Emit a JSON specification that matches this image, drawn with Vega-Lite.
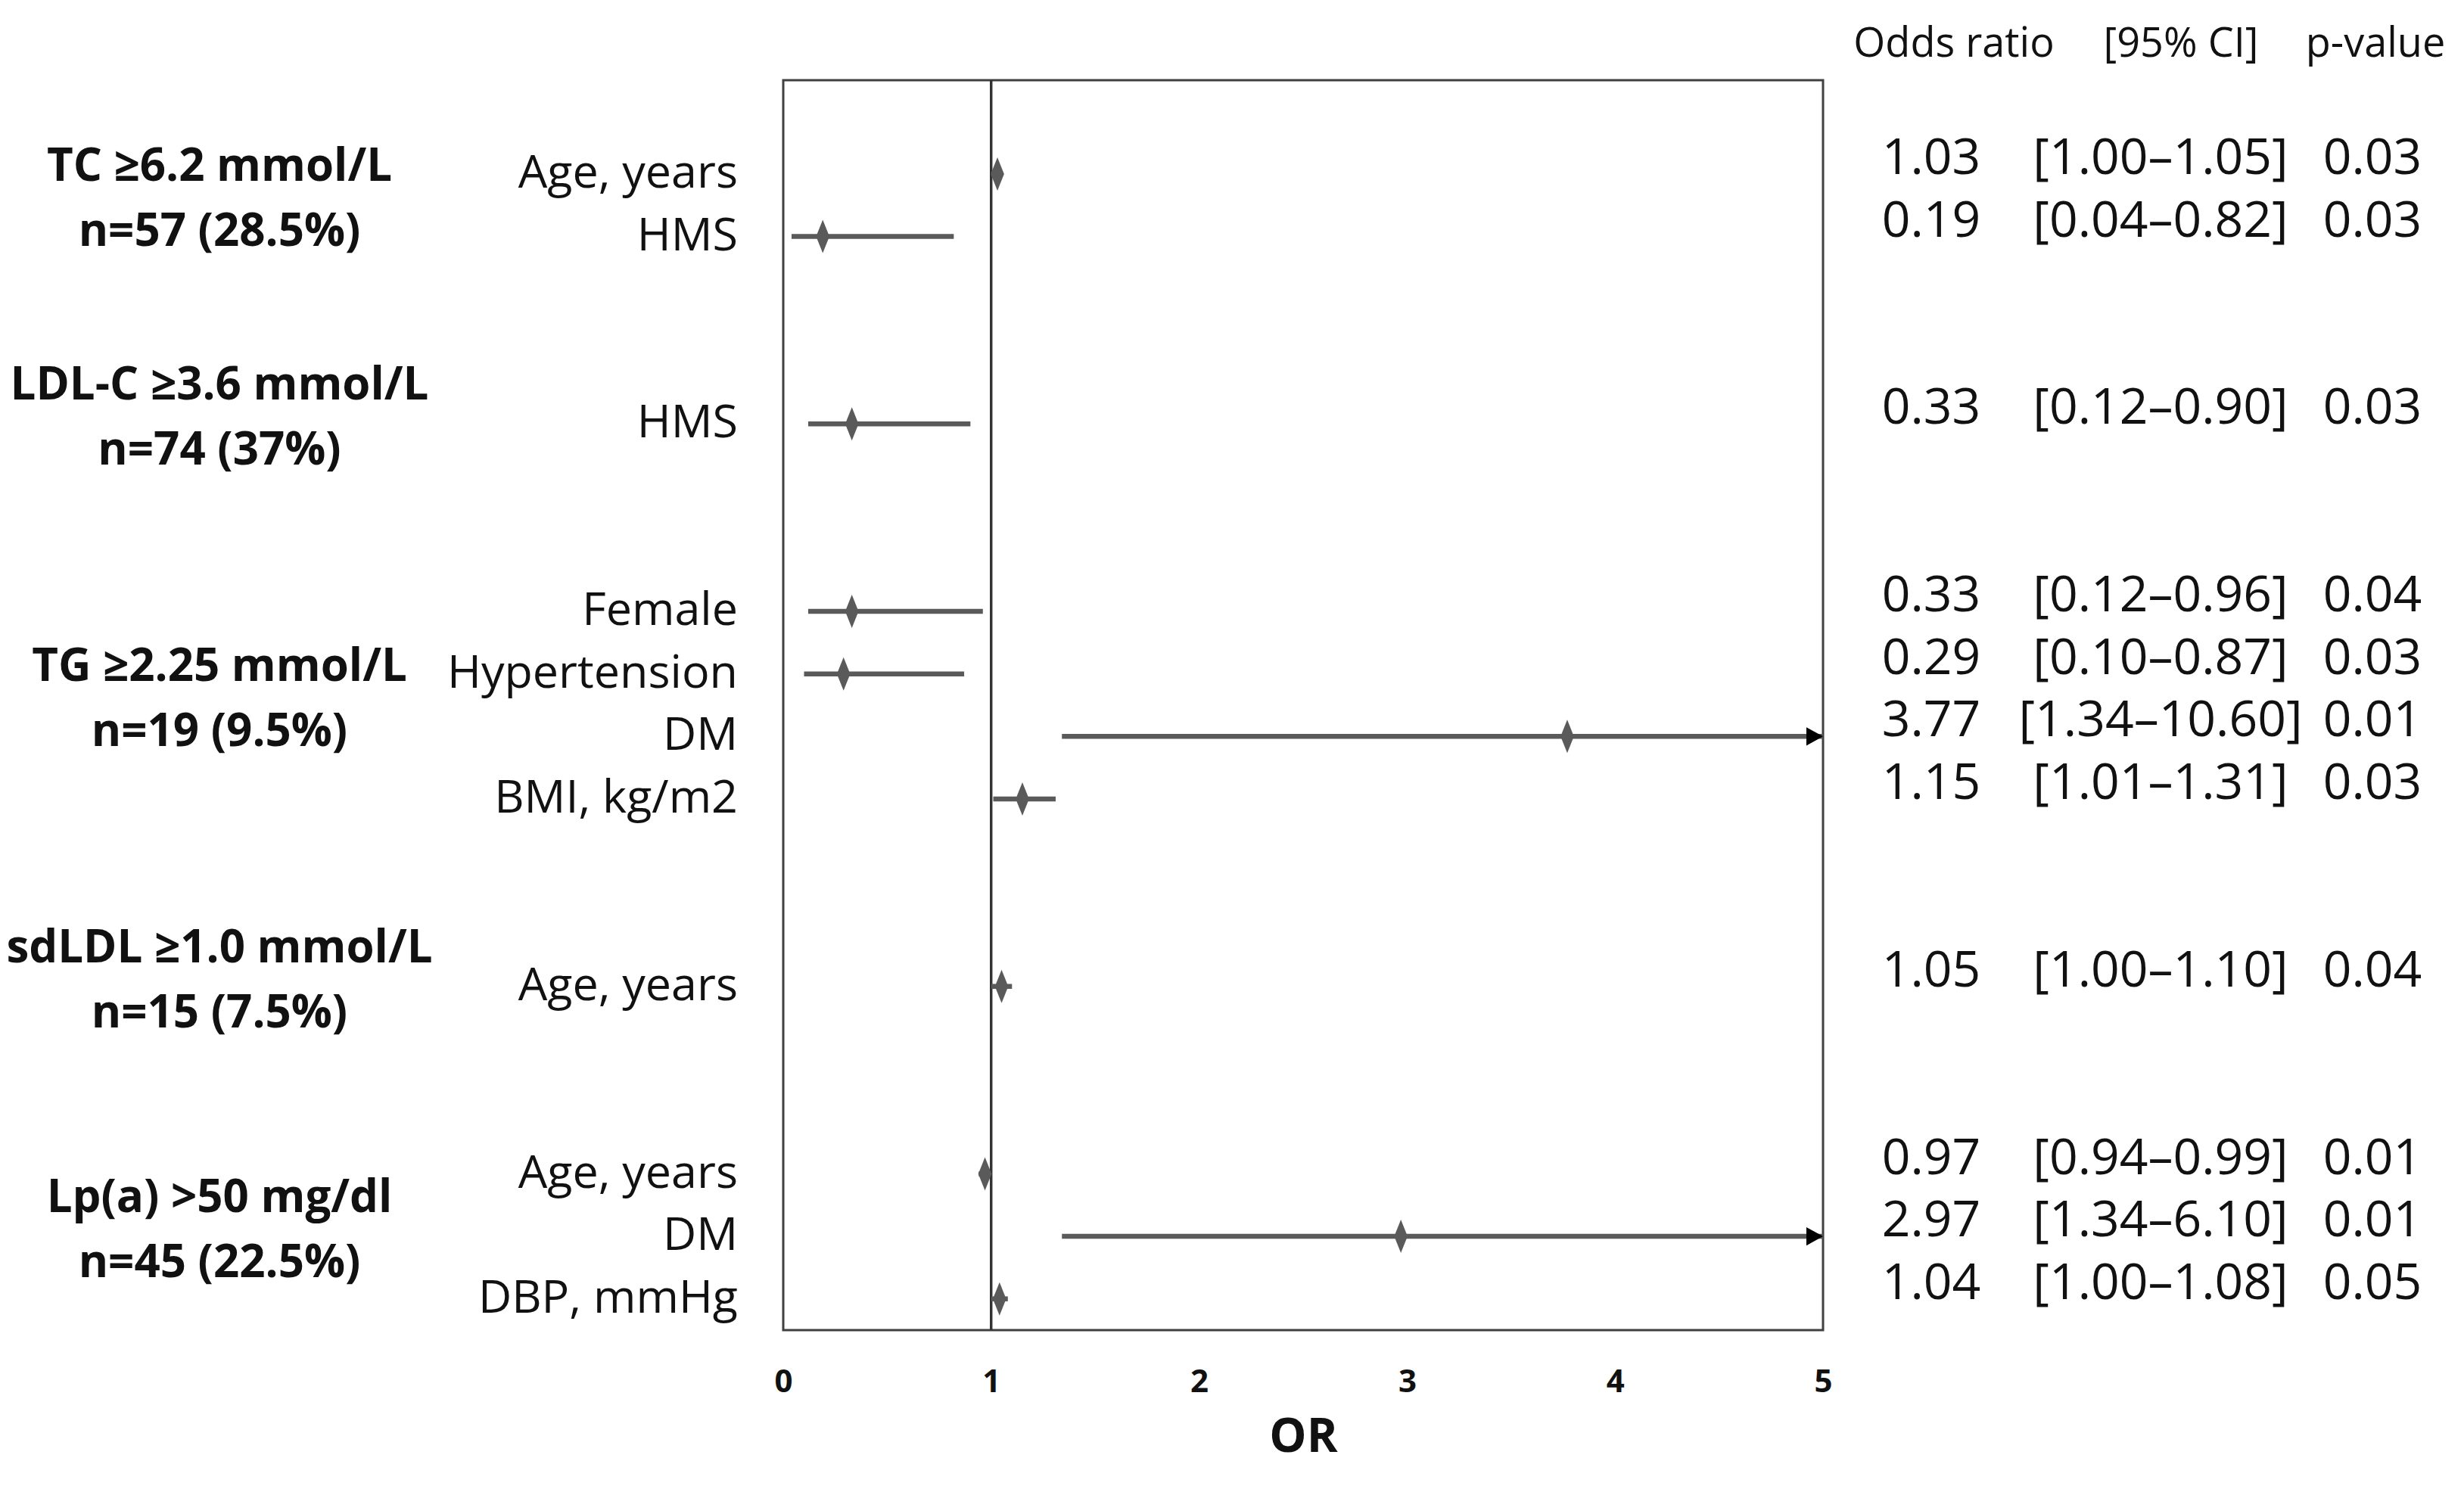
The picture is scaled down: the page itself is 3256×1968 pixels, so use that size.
{
  "$schema": "https://vega.github.io/schema/vega-lite/v6.json",
  "padding": {"left": 0, "top": 32, "right": 0, "bottom": 0},
  "background": "white",
  "bounds": "flush",
  "spacing": 0,
  "datasets": {
    "rows": [
      {"grp": "TC ≥6.2 mmol/L\nn=57 (28.5%)", "var": "Age, years", "row": 0, "or": 1.03, "lo": 1.00, "hi": 1.05, "ci": "[1.00–1.05]", "p": 0.03},
      {"grp": "TC ≥6.2 mmol/L\nn=57 (28.5%)", "var": "HMS", "row": 1, "or": 0.19, "lo": 0.04, "hi": 0.82, "ci": "[0.04–0.82]", "p": 0.03},
      {"grp": "LDL-C ≥3.6 mmol/L\nn=74 (37%)", "var": "HMS", "row": 4, "or": 0.33, "lo": 0.12, "hi": 0.90, "ci": "[0.12–0.90]", "p": 0.03},
      {"grp": "TG ≥2.25 mmol/L\nn=19 (9.5%)", "var": "Female", "row": 7, "or": 0.33, "lo": 0.12, "hi": 0.96, "ci": "[0.12–0.96]", "p": 0.04},
      {"grp": "TG ≥2.25 mmol/L\nn=19 (9.5%)", "var": "Hypertension", "row": 8, "or": 0.29, "lo": 0.10, "hi": 0.87, "ci": "[0.10–0.87]", "p": 0.03},
      {"grp": "TG ≥2.25 mmol/L\nn=19 (9.5%)", "var": "DM", "row": 9, "or": 3.77, "lo": 1.34, "hi": 10.60, "ci": "[1.34–10.60]", "p": 0.01},
      {"grp": "TG ≥2.25 mmol/L\nn=19 (9.5%)", "var": "BMI, kg/m2", "row": 10, "or": 1.15, "lo": 1.01, "hi": 1.31, "ci": "[1.01–1.31]", "p": 0.03},
      {"grp": "sdLDL ≥1.0 mmol/L\nn=15 (7.5%)", "var": "Age, years", "row": 13, "or": 1.05, "lo": 1.00, "hi": 1.10, "ci": "[1.00–1.10]", "p": 0.04},
      {"grp": "Lp(a) >50 mg/dl\nn=45 (22.5%)", "var": "Age, years", "row": 16, "or": 0.97, "lo": 0.94, "hi": 0.99, "ci": "[0.94–0.99]", "p": 0.01},
      {"grp": "Lp(a) >50 mg/dl\nn=45 (22.5%)", "var": "DM", "row": 17, "or": 2.97, "lo": 1.34, "hi": 6.10, "ci": "[1.34–6.10]", "p": 0.01},
      {"grp": "Lp(a) >50 mg/dl\nn=45 (22.5%)", "var": "DBP, mmHg", "row": 18, "or": 1.04, "lo": 1.00, "hi": 1.08, "ci": "[1.00–1.08]", "p": 0.05}
    ]
  },
  "resolve": {"scale": {"y": "shared"}},
  "hconcat": [
    {
      "width": 580, "height": 1652,
      "data": {"name": "rows"},
      "mark": {"type": "text", "font": "Open Sans", "fontSize": 60, "fontWeight": "bold", "align": "center", "baseline": "middle", "lineBreak": "\n", "lineHeight": 86, "dy": -50, "color": "#111"},
      "encoding": {
        "y": {"aggregate": "mean", "field": "row", "type": "quantitative", "scale": {"domain": [-1.5, 18.5], "reverse": true, "nice": false, "zero": false}, "axis": null},
        "text": {"field": "grp", "type": "nominal"}
      }
    },
    {
      "width": 455, "height": 1652,
      "data": {"name": "rows"},
      "mark": {"type": "text", "font": "Open Sans", "fontSize": 61, "align": "right", "baseline": "middle", "dx": -60, "color": "#111"},
      "encoding": {
        "x": {"value": "width"},
        "y": {"field": "row", "type": "quantitative", "axis": null},
        "text": {"field": "var", "type": "nominal"}
      }
    },
    {
      "width": 1374, "height": 1652,
      "data": {"name": "rows"},
      "view": {"stroke": "#404040", "strokeWidth": 3},
      "encoding": {
        "y": {"field": "row", "type": "quantitative", "axis": null}
      },
      "layer": [
        {
          "mark": {"type": "rule", "color": "#333333", "strokeWidth": 2.5},
          "encoding": {"x": {"datum": 1, "type": "quantitative"}, "y": null}
        },
        {
          "mark": {"type": "rule", "color": "#5a5a5a", "strokeWidth": 6.5, "clip": true},
          "encoding": {
            "x": {"field": "lo", "type": "quantitative", "scale": {"domain": [0, 5], "nice": false, "zero": false},
              "axis": {"values": [0, 1, 2, 3, 4, 5], "format": "d", "ticks": false, "domain": false, "grid": false, "labelFlush": false, "labelFont": "Open Sans", "labelFontWeight": "bold", "labelFontSize": 42, "labelColor": "#111", "labelPadding": 48, "title": "OR", "titleFont": "Open Sans", "titleFontSize": 62, "titleFontWeight": "bold", "titleColor": "#111", "titlePadding": 22}},
            "x2": {"field": "hi"}
          }
        },
        {
          "transform": [{"filter": "datum.hi > 5"}],
          "mark": {"type": "point", "shape": "M-1,-0.55L0,0L-1,0.55Z", "filled": true, "color": "#000000", "opacity": 1, "size": 1936},
          "encoding": {"x": {"datum": 5, "type": "quantitative"}}
        },
        {
          "mark": {"type": "point", "shape": "M0,-1L0.4,0L0,1L-0.4,0Z", "filled": true, "color": "#5a5a5a", "opacity": 1, "size": 1936},
          "encoding": {"x": {"field": "or", "type": "quantitative"}}
        }
      ]
    },
    {
      "width": 286, "height": 1652,
      "data": {"name": "rows"},
      "title": {"text": "Odds ratio", "font": "Open Sans", "fontSize": 54, "fontWeight": "normal", "color": "#111", "anchor": "middle", "frame": "group", "baseline": "bottom", "offset": -34, "dx": 30},
      "mark": {"type": "text", "font": "Open Sans", "fontSize": 66, "align": "center", "baseline": "middle", "dy": -20, "color": "#111"},
      "encoding": {
        "y": {"field": "row", "type": "quantitative", "axis": null},
        "text": {"field": "or", "type": "quantitative", "format": ".2f"}
      }
    },
    {
      "width": 320, "height": 1652,
      "data": {"name": "rows"},
      "title": {"text": "[95% CI]", "font": "Open Sans", "fontSize": 54, "fontWeight": "normal", "color": "#111", "anchor": "middle", "frame": "group", "baseline": "bottom", "offset": -34, "dx": 27},
      "mark": {"type": "text", "font": "Open Sans", "fontSize": 66, "align": "center", "baseline": "middle", "dy": -20, "color": "#111"},
      "encoding": {
        "y": {"field": "row", "type": "quantitative", "axis": null},
        "text": {"field": "ci", "type": "nominal"}
      }
    },
    {
      "width": 240, "height": 1652,
      "data": {"name": "rows"},
      "title": {"text": "p-value", "font": "Open Sans", "fontSize": 54, "fontWeight": "normal", "color": "#111", "anchor": "middle", "frame": "group", "baseline": "bottom", "offset": -34, "dx": 4},
      "mark": {"type": "text", "font": "Open Sans", "fontSize": 66, "align": "center", "baseline": "middle", "dy": -20, "color": "#111"},
      "encoding": {
        "y": {"field": "row", "type": "quantitative", "axis": null},
        "text": {"field": "p", "type": "quantitative", "format": ".2f"}
      }
    }
  ],
  "config": {
    "view": {"stroke": null},
    "font": "Open Sans"
  }
}
